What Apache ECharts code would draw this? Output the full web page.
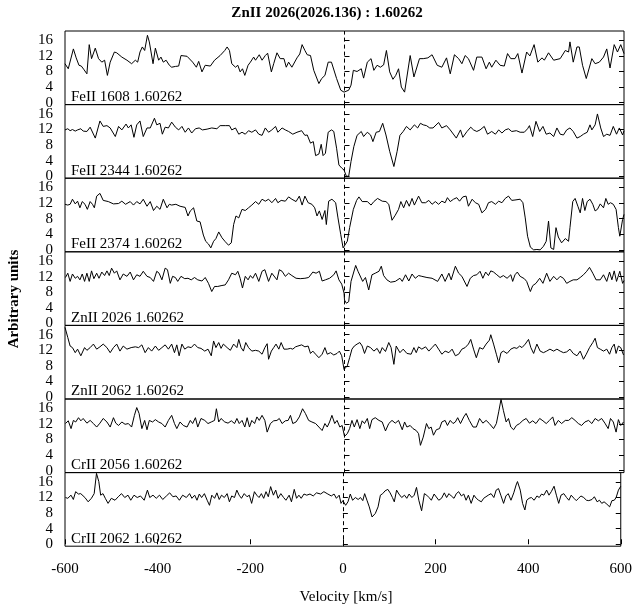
<!DOCTYPE html>
<html>
<head>
<meta charset="utf-8">
<script src="https://cdn.jsdelivr.net/npm/echarts@6/dist/echarts.min.js"></script>
<style>html,body{margin:0;padding:0;background:#fff}#c{width:635px;height:610px}</style>
</head>
<body>
<div id="c"></div>
<script>
const chartTitle = 'ZnII 2026(2026.136) : 1.60262';
const xTitle = 'Velocity [km/s]';
const yTitle = 'Arbitrary units';
const panelNames = ['FeII 1608 1.60262','FeII 2344 1.60262','FeII 2374 1.60262','ZnII 2026 1.60262','ZnII 2062 1.60262','CrII 2056 1.60262','CrII 2062 1.60262'];
const yTickValues = [0,4,8,12,16];
const xMin = -600, xMax = 600, xStep = 200;

const fe1608_v = [-600,-593,-582,-576,-570,-565,-560,-553,-548,-543,-535,-528,-521,-515,-509,-503,-494,-489,-478,-467,-457,-449,-444,-439,-434,-429,-423,-419,-411,-406,-399,-394,-389,-383,-376,-371,-363,-356,-351,-338,-335,-326,-318,-313,-306,-299,-288,-279,-267,-257,-252,-247,-242,-234,-229,-224,-219,-214,-207,-202,-195,-191,-183,-177,-170,-165,-157,-152,-145,-138,-130,-125,-120,-113,-102,-96,-91,-85,-80,-73,-66,-62,-55,-49,-42,-35,-28,-24,-17,-8,-1,
3,9,14,19,27,36,41,49,57,63,70,77,84,90,97,104,110,116,122,129,141,149,161,169,179,188,199,209,219,227,236,245,252,259,266,277,284,295,304,311,316,325,334,343,350,357,366,372,381,391,398,407,415,424,429,438,449,463,474,481,484,491,499,504,511,519,531,538,547,556,563,570,579,586,593,600];
const fe1608_f = [10.0,8.7,13.8,11.5,9.6,9.4,8.6,7.4,14.9,11.3,14.0,11.3,10.4,10.9,7.0,10.4,13.0,12.8,11.7,10.9,10.0,10.9,10.4,13.0,14.3,13.4,17.3,15.6,10.0,14.0,10.9,11.7,10.4,10.9,9.6,9.1,9.3,9.4,12.1,11.9,11.7,10.4,9.1,10.6,7.9,9.6,9.4,10.9,12.1,13.4,14.3,13.4,10.0,9.1,9.6,7.9,8.7,7.0,9.6,10.4,11.7,10.9,12.3,10.9,12.1,12.7,7.9,10.0,12.8,11.3,11.3,9.1,10.4,9.1,11.5,12.5,14.9,13.4,12.3,12.1,8.3,8.7,4.9,6.2,7.0,10.4,10.4,10.0,6.2,3.2,2.7,
2.3,3.2,4.5,8.3,8.0,8.7,6.3,10.4,11.3,8.3,9.6,9.1,9.7,13.4,7.9,6.0,7.0,8.7,4.0,2.7,12.1,6.6,11.3,11.3,11.5,12.3,9.6,9.1,11.5,7.4,12.3,11.3,10.0,12.1,11.3,8.3,11.7,11.7,8.7,10.4,9.1,10.9,9.6,9.4,12.6,11.3,11.3,12.6,7.6,13.0,12.0,14.9,10.4,11.5,10.9,12.8,10.9,11.3,13.4,13.0,15.6,10.4,14.3,14.3,9.6,6.2,11.3,10.0,10.4,11.7,13.8,8.9,14.9,13.0,14.9,12.6];

const fe2344_v = [-600,-594,-589,-584,-578,-573,-566,-561,-557,-553,-546,-535,-525,-518,-510,-503,-492,-485,-478,-469,-464,-458,-452,-446,-439,-432,-424,-417,-408,-403,-396,-391,-385,-378,-371,-363,-356,-349,-342,-335,-328,-320,-312,-305,-295,-285,-274,-267,-256,-247,-242,-234,-227,-220,-213,-206,-199,-191,-184,-177,-170,-163,-156,-148,-143,-134,-127,-120,-111,-102,-92,-85,-80,-73,-67,-62,-55,-50,-46,-41,-35,-28,-23,-17,-12,-6,-1,
4,9,14,20,27,36,41,49,56,61,68,75,82,89,97,106,113,119,126,133,141,150,157,163,169,176,183,190,202,209,219,227,240,249,254,263,271,277,284,291,300,307,316,324,331,338,345,352,359,369,377,386,393,397,404,411,419,426,433,441,449,456,463,470,477,484,491,499,506,513,521,527,531,538,543,550,556,563,570,577,584,590,597,600];
const fe2344_f = [11.9,12.2,11.7,12.0,11.6,11.9,12.2,11.6,11.5,11.5,12.6,9.8,14.2,12.8,13.0,12.4,10.2,12.8,11.9,13.4,12.4,13.2,10.0,13.2,14.2,10.2,12.4,12.4,14.9,13.2,13.6,10.8,12.6,12.4,13.9,12.6,11.9,12.8,11.3,12.4,11.1,12.2,12.4,11.9,12.1,12.4,12.2,13.0,13.0,13.0,11.9,12.4,10.8,11.3,10.8,11.7,11.3,11.9,10.8,10.5,12.4,11.3,11.9,12.8,11.3,12.4,11.9,11.5,10.8,11.3,11.7,10.5,10.6,8.5,8.9,5.3,5.7,8.2,5.3,5.9,11.3,11.9,11.5,7.2,2.9,2.1,1.6,
0,0,3.8,7.6,10.5,11.5,10.2,11.3,10.6,8.9,11.3,11.5,13.6,10.6,6.4,2.5,6.4,10.5,11.5,12.8,11.9,13.2,12.4,13.6,13.2,13.0,12.4,12.4,13.8,12.4,13.0,11.9,9.8,11.9,10.0,11.5,12.6,11.9,11.5,11.9,12.8,10.8,11.5,10.8,11.9,11.1,11.9,12.2,11.5,11.7,11.3,11.3,12.2,13.0,10.2,14.1,11.5,12.8,10.8,11.1,10.2,12.4,10.8,10.6,11.9,12.4,11.5,9.8,10.2,10.8,11.3,13.2,11.9,13.2,16.0,12.4,10.2,10.8,10.5,12.8,10.8,12.4,10.6,11.7];

const fe2374_v = [-600,-594,-589,-584,-578,-573,-568,-563,-557,-552,-546,-541,-537,-532,-525,-518,-507,-496,-485,-478,-470,-460,-453,-446,-439,-432,-424,-417,-410,-403,-396,-389,-381,-376,-371,-362,-353,-342,-336,-331,-324,-317,-310,-303,-298,-292,-287,-281,-276,-270,-263,-256,-249,-243,-238,-233,-227,-220,-213,-206,-199,-191,-184,-177,-170,-163,-156,-148,-143,-136,-127,-120,-113,-104,-97,-91,-85,-78,-70,-64,-59,-54,-48,-42,-39,-34,-27,-19,-14,-8,-3,0,
6,11,19,26,31,38,49,57,63,71,81,89,95,102,109,116,121,127,133,139,145,150,159,166,174,181,188,195,202,209,216,221,227,234,241,247,254,261,266,274,281,288,295,303,309,316,324,331,338,345,352,359,366,377,383,388,393,399,406,413,420,427,433,438,443,449,454,459,466,474,481,484,490,495,501,506,511,516,521,527,533,538,543,549,556,561,566,571,577,583,588,591,597,600];
const fe2374_f = [11.7,11.5,11.7,13.0,11.8,12.5,10.8,12.4,11.7,10.4,12.4,11.7,10.8,13.8,14.5,12.7,12.4,11.8,11.9,12.5,11.7,12.4,11.5,12.4,11.8,13.0,11.2,12.4,10.1,11.2,10.4,13.0,10.8,11.7,11.5,11.7,11.2,10.9,8.7,10.0,10.8,7.4,7.2,3.8,2.2,1.5,0.5,2.2,2.9,4.6,3.1,2.1,1.2,1.8,6.5,8.7,8.2,10.4,10.1,10.8,11.5,12.4,11.7,13.0,12.5,13.0,12.1,13.2,12.1,12.7,12.5,13.6,13.0,12.4,13.8,11.5,13.8,12.1,11.7,10.8,8.7,10.0,7.8,10.1,6.5,12.5,13.0,12.1,8.2,3.9,0.5,0,
2.2,5.7,10.4,12.7,13.6,12.4,12.4,11.5,12.4,13.2,12.5,12.4,11.7,7.6,8.9,10.4,12.4,10.8,12.7,11.2,13.2,11.5,13.8,12.1,12.1,12.7,11.7,12.4,11.7,12.5,12.1,13.4,12.4,13.0,13.4,12.5,13.6,13.8,11.2,13.0,12.1,11.7,9.5,10.4,12.1,12.4,11.7,12.5,12.1,13.2,13.8,12.7,12.8,13.0,12.1,8.2,3.5,0.7,0,0.1,0,0.9,2.2,7.4,0.5,0.1,5.7,3.3,1.8,2.9,2.2,5.7,12.4,13.2,11.2,9.5,13.2,10.1,12.4,13.0,11.7,10.0,10.4,11.8,10.8,13.2,11.7,12.1,11.7,10.4,5.7,3.5,7.8,9.1];

const zn2026_v = [-599,-594,-589,-584,-578,-573,-568,-563,-558,-553,-548,-543,-538,-532,-527,-521,-515,-510,-505,-500,-494,-489,-482,-475,-467,-460,-453,-446,-439,-432,-424,-417,-410,-403,-398,-392,-385,-380,-374,-369,-363,-358,-351,-343,-336,-329,-322,-315,-306,-299,-292,-285,-279,-272,-265,-256,-249,-242,-234,-229,-224,-219,-213,-207,-202,-197,-191,-184,-177,-171,-163,-156,-152,-145,-140,-134,-127,-120,-113,-104,-95,-85,-77,-68,-61,-54,-48,-41,-32,-23,-18,-12,-6,-1,
0,4,9,14,24,29,33,39,45,52,59,66,74,79,84,91,99,109,119,124,131,138,145,152,159,166,177,188,200,209,216,224,229,238,245,252,263,270,277,284,291,297,303,309,314,320,327,334,341,349,357,361,366,371,377,386,391,399,404,411,419,426,434,441,449,456,463,470,477,484,491,499,506,513,520,526,533,540,549,556,563,569,574,579,584,591,597,600];
const zn2026_f = [11.8,12.9,10.8,12.7,11.6,12.1,11.2,12.7,10.8,12.9,10.8,13.5,11.5,12.9,11.6,13.2,12.3,13.5,12.3,14.2,12.9,13.5,11.2,12.7,12.1,13.2,11.2,12.5,12.1,13.4,12.1,11.8,10.8,13.4,12.9,11.2,14.2,13.8,10.3,12.1,11.8,10.8,12.1,11.5,11.6,11.2,11.8,11.2,10.9,11.8,10.3,8.2,9.5,9.5,9.7,9.9,11.2,12.9,12.5,13.4,11.6,9.1,12.1,11.2,12.3,11.6,12.9,10.8,13.4,13.8,10.8,12.9,13.4,11.2,13.8,13.4,12.1,12.9,12.3,11.6,11.5,11.6,11.8,13.2,12.9,13.4,10.9,11.2,11.6,12.5,13.5,11.2,10.1,7.8,
6.0,5.2,5.6,10.8,14.9,13.4,13.8,10.8,11.8,8.6,12.5,12.9,13.4,14.7,12.3,11.2,10.6,10.8,11.6,10.8,12.5,10.9,12.7,11.6,12.3,12.1,11.8,11.6,10.8,12.7,10.8,12.9,11.2,14.7,12.9,12.1,9.5,11.6,12.3,12.5,13.4,11.6,13.2,12.3,13.5,13.2,12.5,11.8,12.3,11.6,12.5,10.8,12.5,13.2,12.1,11.5,10.8,8.2,9.7,10.3,11.6,10.3,12.9,10.8,12.1,11.2,12.1,11.6,10.3,10.8,11.2,11.2,11.8,12.5,13.4,14.4,12.9,11.2,11.2,12.5,10.8,13.2,11.2,13.5,10.8,13.4,10.3,11.0];

const zn2062_v = [-600,-594,-589,-584,-578,-573,-566,-558,-553,-546,-539,-532,-525,-518,-510,-503,-496,-489,-482,-475,-467,-458,-449,-442,-435,-428,-421,-414,-406,-399,-392,-385,-378,-371,-365,-360,-355,-349,-343,-336,-329,-322,-315,-308,-300,-293,-286,-281,-276,-270,-265,-260,-252,-245,-238,-231,-227,-222,-217,-212,-206,-199,-191,-184,-177,-171,-166,-163,-157,-152,-147,-141,-136,-130,-123,-116,-111,-105,-100,-92,-85,-78,-73,-68,-62,-55,-48,-42,-37,-30,-23,-16,-11,-6,-1,
0,6,11,16,21,27,33,38,43,49,56,63,70,76,81,88,95,100,106,111,119,126,134,143,149,154,159,166,174,181,188,195,202,209,216,224,231,238,245,252,259,266,271,277,283,290,297,304,311,314,320,326,331,336,341,349,357,364,370,376,381,388,395,400,406,413,420,427,434,441,449,456,463,470,477,484,491,499,506,513,519,526,533,538,543,549,556,563,569,574,579,583,588,593,599];
const zn2062_f = [17.9,15.3,13.1,12.7,11.4,12.3,10.6,12.7,12.0,12.7,13.6,12.3,12.9,13.6,12.7,11.4,12.7,13.6,11.8,13.1,12.3,12.7,12.9,12.7,13.4,11.4,12.7,11.8,13.1,12.0,12.7,13.4,12.3,13.6,11.4,13.4,10.6,13.6,12.3,12.9,12.7,13.6,12.7,12.5,11.8,12.3,10.6,14.4,12.7,14.0,12.5,13.6,12.7,12.0,13.6,12.7,14.8,12.7,11.8,14.0,12.7,11.8,12.0,11.8,11.0,12.7,13.7,9.7,11.8,12.7,13.6,12.3,14.0,12.3,12.3,12.5,12.3,12.9,13.1,13.4,12.9,13.1,11.2,11.8,11.0,10.1,11.0,12.7,11.0,11.4,10.8,11.2,11.8,10.6,7.1,
6.7,8.0,10.1,12.3,13.1,13.6,14.0,13.1,11.2,13.1,12.7,11.8,12.5,11.2,12.7,11.7,14.0,12.7,8.4,13.1,11.4,12.3,11.2,11.0,12.7,11.4,12.9,12.3,12.9,11.8,12.7,13.6,12.3,11.0,11.8,11.4,12.3,10.6,11.0,12.3,12.7,13.6,14.8,12.3,10.1,12.7,12.3,13.6,14.6,16.0,13.6,11.0,8.8,11.4,11.8,11.2,12.3,12.7,12.5,13.1,12.7,13.6,14.8,12.7,11.2,13.6,11.8,11.4,11.8,12.3,11.8,12.3,11.8,11.4,11.6,12.3,11.2,10.6,11.8,9.7,11.0,12.7,14.0,15.1,12.7,12.3,11.8,12.3,11.0,12.7,13.6,11.2,13.1,12.7,10.8];

const cr2056_v = [-599,-593,-587,-582,-577,-571,-566,-561,-553,-546,-539,-532,-525,-518,-510,-503,-496,-491,-485,-478,-471,-464,-457,-451,-446,-441,-435,-429,-424,-419,-412,-406,-399,-392,-385,-378,-371,-365,-360,-353,-346,-338,-331,-326,-320,-315,-308,-300,-293,-286,-279,-275,-270,-265,-257,-250,-243,-236,-231,-226,-220,-214,-209,-204,-199,-193,-188,-183,-177,-171,-166,-159,-152,-145,-140,-134,-127,-121,-116,-111,-104,-97,-90,-84,-77,-70,-62,-55,-48,-42,-37,-32,-27,-21,-16,-10,-5,
0,6,11,16,21,27,33,38,43,49,54,59,66,74,81,88,95,102,109,116,124,129,134,141,147,154,159,163,169,176,181,186,191,197,204,209,216,221,227,233,238,243,249,256,261,268,276,283,290,297,304,311,320,326,331,336,341,347,352,357,363,369,376,383,390,397,404,411,419,426,433,440,447,452,459,466,474,481,488,495,502,509,516,524,531,538,545,552,559,566,571,577,583,588,593,599];
const cr2056_f = [12.1,12.8,10.8,12.9,12.5,13.6,12.8,13.4,12.2,12.9,12.1,11.2,12.2,13.4,12.5,11.2,13.6,12.2,11.6,12.5,11.9,12.1,11.2,14.2,16.2,14.7,10.8,12.9,10.5,12.9,12.5,13.1,12.5,12.1,11.2,12.9,14.2,12.1,10.8,12.5,11.6,11.2,12.9,12.1,13.6,11.2,13.4,12.9,12.1,12.5,12.9,15.9,12.5,13.4,12.5,12.2,12.8,12.1,13.4,12.1,12.9,11.2,13.6,11.2,12.9,12.1,13.8,12.9,14.2,12.9,9.9,12.1,12.8,12.9,13.4,12.1,12.8,12.9,14.2,12.1,12.5,13.8,15.9,14.7,12.9,12.5,12.1,11.2,10.3,12.1,11.2,12.5,14.2,12.1,12.9,11.2,11.6,
8.8,9.5,10.8,12.9,11.2,13.1,10.8,12.8,12.1,13.4,10.8,13.1,13.6,12.9,12.5,10.2,12.1,12.9,12.2,12.9,10.5,12.5,11.2,11.6,10.8,10.3,9.5,6.5,8.6,12.1,10.8,11.2,9.1,10.5,10.8,12.5,12.9,11.6,12.9,12.1,12.5,13.6,12.1,13.8,14.7,12.9,11.2,11.2,13.4,12.2,12.9,12.1,10.8,12.1,15.1,18.3,15.5,12.5,13.4,11.2,10.5,11.6,12.1,12.9,13.4,12.2,12.8,12.1,13.4,12.8,12.1,12.9,13.8,11.6,12.9,12.1,12.9,12.9,13.6,12.9,12.1,11.6,12.5,12.9,12.1,13.4,12.8,13.4,12.2,10.8,13.4,12.5,9.9,13.1,11.6,12.5];

const cr2062_v = [-599,-594,-587,-582,-577,-571,-566,-557,-550,-543,-537,-532,-527,-523,-518,-513,-507,-500,-492,-485,-478,-471,-464,-458,-451,-444,-437,-429,-422,-417,-410,-403,-396,-389,-381,-374,-367,-360,-353,-346,-338,-331,-326,-320,-315,-310,-305,-299,-293,-288,-283,-277,-272,-267,-262,-256,-250,-245,-240,-234,-229,-224,-219,-213,-207,-202,-197,-191,-186,-181,-176,-171,-166,-161,-156,-150,-145,-140,-134,-128,-123,-116,-111,-105,-100,-95,-90,-84,-78,-71,-64,-57,-48,-41,-34,-30,-25,-19,-14,-8,-4,
0,6,11,16,21,27,33,38,43,47,52,57,63,70,76,81,86,91,97,102,107,111,116,121,127,133,138,143,149,154,159,164,170,176,181,186,191,197,201,207,213,219,224,229,234,240,245,250,256,261,266,271,277,283,288,293,299,304,309,314,320,326,331,336,341,347,352,357,363,369,374,377,383,388,393,397,402,407,413,419,424,429,434,440,445,450,456,461,466,471,477,483,488,493,499,504,509,514,520,526,531,538,543,549,554,559,564,570,576,581,586,590,595,600];
const cr2062_f = [12.0,11.8,12.6,11.5,13.5,12.9,13.0,12.0,10.9,11.8,13.0,18.2,16.1,12.6,13.0,11.8,10.5,11.8,11.3,12.2,13.0,12.0,12.6,11.3,12.6,12.0,12.4,11.3,13.9,12.0,12.6,11.8,12.6,11.5,12.4,13.2,12.2,12.4,11.3,12.6,12.0,13.0,11.8,12.6,11.3,12.9,12.0,13.0,11.3,10.0,12.6,11.8,13.2,11.5,12.6,12.0,13.0,10.9,12.4,12.0,13.9,12.6,11.8,13.0,12.2,12.6,10.5,13.5,12.6,12.0,13.0,11.8,13.5,12.2,14.8,12.6,13.9,11.8,13.0,12.0,11.3,12.6,10.9,14.1,11.8,12.6,11.8,12.9,12.6,12.9,12.4,13.2,12.9,13.5,13.0,13.2,12.4,12.9,11.8,12.6,10.5,
11.2,10.0,10.9,12.9,11.3,12.0,11.5,12.0,11.2,13.0,11.3,9.6,7.0,7.9,9.6,12.6,13.0,13.7,14.1,13.2,12.0,10.9,13.9,12.9,12.0,12.6,11.8,12.9,12.0,12.6,14.6,11.3,8.6,13.0,12.6,12.0,11.3,12.9,12.4,11.3,11.8,13.2,12.0,13.0,12.4,11.8,13.0,13.5,12.4,12.9,11.3,12.6,10.5,12.6,11.8,11.3,10.9,11.8,12.2,12.6,13.0,12.0,13.9,14.3,12.6,10.5,12.4,13.0,11.3,13.2,15.2,16.1,13.9,10.5,8.8,11.3,11.8,12.0,11.3,12.4,12.0,12.9,12.6,13.9,12.6,13.5,14.9,12.6,10.5,12.6,13.0,12.0,11.3,12.6,11.8,11.2,11.8,12.4,12.0,11.3,11.2,11.5,12.2,10.9,11.3,10.5,10.9,10.3,9.6,11.2,11.3,12.0,13.9,14.9];

const velocities = [fe1608_v, fe2344_v, fe2374_v, zn2026_v, zn2062_v, cr2056_v, cr2062_v];
const fluxes = [fe1608_f, fe2344_f, fe2374_f, zn2026_f, zn2062_f, cr2056_f, cr2062_f];

// layout
const L = 65, R = 11, TOP = 31, PH = 73.6;
const FONT = '"Liberation Serif","DejaVu Serif",serif';
const yMin = -0.5, yMax = 18.4;

const grids = [], xAxes = [], yAxes = [], series = [], graphics = [];
const n = panelNames.length;
for (let i = 0; i < n; i++) {
  const last = i === n - 1;
  grids.push({left: L, right: R, top: TOP + i * PH, height: PH, show: true, borderColor: '#000', borderWidth: 1, backgroundColor: 'transparent', containLabel: false});
  xAxes.push({
    type: 'value', gridIndex: i, min: xMin, max: xMax, interval: xStep,
    axisLine: {show: false},
    axisTick: {show: last, inside: true, length: 5, lineStyle: {color: '#000', width: 1}},
    axisLabel: {show: last, color: '#000', fontFamily: FONT, fontSize: 15, margin: 15, showMinLabel: true, showMaxLabel: true},
    splitLine: {show: false}
  });
  yAxes.push({
    type: 'value', gridIndex: i, position: 'left', min: yMin, max: yMax,
    axisLine: {show: false},
    axisTick: {show: true, inside: true, length: 5, customValues: yTickValues, lineStyle: {color: '#000', width: 1}},
    axisLabel: {show: true, customValues: yTickValues, color: '#000', fontFamily: FONT, fontSize: 15, margin: 12},
    splitLine: {show: false}
  });
  yAxes.push({
    type: 'value', gridIndex: i, position: 'right', min: yMin, max: yMax,
    axisLine: {show: false},
    axisTick: {show: true, inside: true, length: 5, customValues: yTickValues, lineStyle: {color: '#000', width: 1}},
    axisLabel: {show: false},
    splitLine: {show: false}
  });
  const vs = velocities[i], fs = fluxes[i];
  const data = vs.map((v, k) => [v, fs[k]]);
  series.push({
    type: 'line', xAxisIndex: i, yAxisIndex: 2 * i, data: data,
    showSymbol: false, symbol: 'none', animation: false, clip: true,
    lineStyle: {color: '#000', width: 1},
    markLine: {
      silent: true, symbol: ['none', 'none'], animation: false,
      label: {show: false},
      lineStyle: {color: '#000', width: 1, type: [4, 3]},
      data: [{xAxis: 0}]
    }
  });
  const bottom = TOP + (i + 1) * PH;
  graphics.push({type: 'text', x: L + 6, y: bottom - 15, style: {text: panelNames[i], font: '15px ' + FONT, fill: '#000', align: 'left', verticalAlign: 'top'}});
}
graphics.push({type: 'text', x: 327, y: 13, style: {text: chartTitle, font: 'bold 15px ' + FONT, fill: '#000', align: 'center', verticalAlign: 'middle'}});
graphics.push({type: 'text', x: 346, y: 597, style: {text: xTitle, font: '15px ' + FONT, fill: '#000', align: 'center', verticalAlign: 'middle'}});
graphics.push({type: 'text', x: 14, y: 299, rotation: Math.PI / 2, style: {text: yTitle, font: 'bold 15px ' + FONT, fill: '#000', align: 'center', verticalAlign: 'middle'}});

const chart = echarts.init(document.getElementById('c'), null, {renderer: 'canvas'});
chart.setOption({
  backgroundColor: '#fff',
  animation: false,
  grid: grids, xAxis: xAxes, yAxis: yAxes, series: series, graphic: graphics
});
</script>
</body>
</html>
